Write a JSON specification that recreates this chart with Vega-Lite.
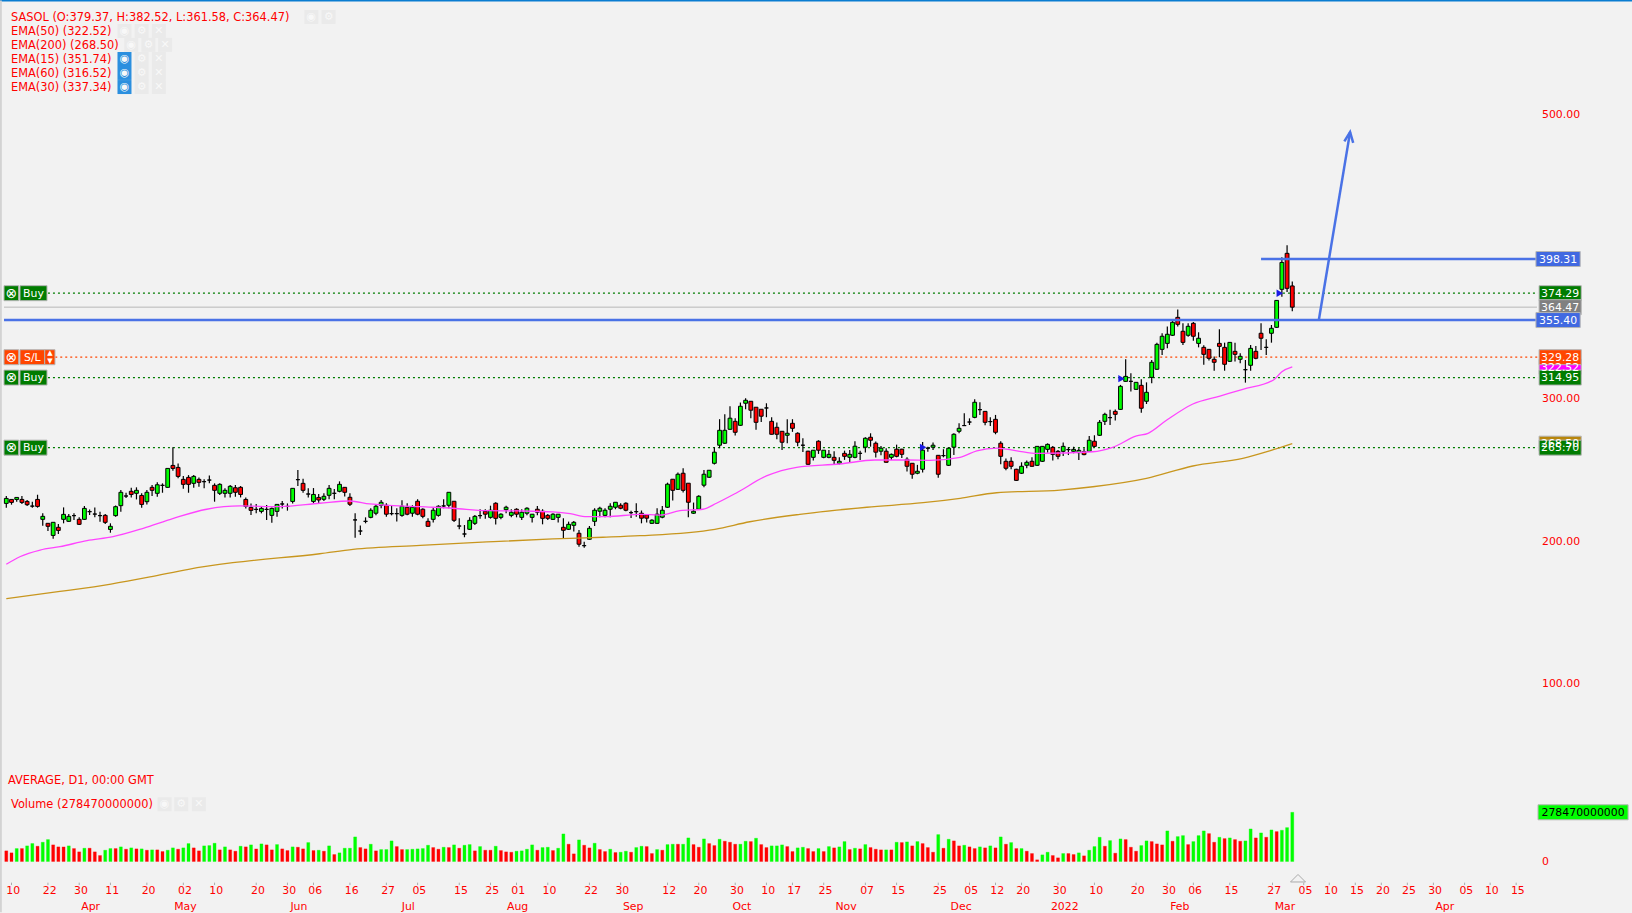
{"$schema":"https://vega.github.io/schema/vega-lite/v6.json","width":1632,"height":913,"padding":0,"autosize":{"type":"none"},"background":"#f2f2f2","config":{"view":{"stroke":null},"text":{"font":"DejaVu Sans","fontSize":10.9,"baseline":"middle"}},
"datasets":{
"bars":[
{"i":0,"o":226.5,"h":231.7,"l":223.5,"c":230.0,"d":"up","v":60.2,"vd":"down"},
{"i":1,"o":229.3,"h":229.3,"l":225.6,"c":227.2,"d":"down","v":48.9,"vd":"down"},
{"i":2,"o":229.3,"h":230.7,"l":227.7,"c":230.7,"d":"up","v":73.3,"vd":"up"},
{"i":3,"o":229.3,"h":231.7,"l":226.1,"c":227.2,"d":"down","v":73.3,"vd":"down"},
{"i":4,"o":227.9,"h":228.9,"l":224.6,"c":225.6,"d":"down","v":88.4,"vd":"up"},
{"i":5,"o":224.6,"h":227.7,"l":223.5,"c":224.6,"d":"flat","v":101.5,"vd":"up"},
{"i":6,"o":229.3,"h":232.6,"l":223.5,"c":224.4,"d":"down","v":86.5,"vd":"down"},
{"i":7,"o":215.3,"h":219.5,"l":210.8,"c":217.4,"d":"up","v":109,"vd":"up"},
{"i":8,"o":212.5,"h":212.5,"l":207.1,"c":210.4,"d":"down","v":124.1,"vd":"up"},
{"i":9,"o":204.0,"h":213.2,"l":201.7,"c":213.2,"d":"up","v":94,"vd":"down"},
{"i":10,"o":209.7,"h":212.0,"l":205.0,"c":207.5,"d":"down","v":82.7,"vd":"down"},
{"i":11,"o":215.3,"h":223.7,"l":212.5,"c":218.8,"d":"up","v":82.7,"vd":"down"},
{"i":12,"o":213.9,"h":219.0,"l":213.4,"c":217.4,"d":"up","v":88.4,"vd":"up"},
{"i":13,"o":217.9,"h":219.5,"l":214.8,"c":217.9,"d":"flat","v":73.3,"vd":"down"},
{"i":14,"o":215.3,"h":216.7,"l":211.3,"c":211.8,"d":"down","v":54.5,"vd":"down"},
{"i":15,"o":215.3,"h":224.6,"l":214.8,"c":223.0,"d":"up","v":75.2,"vd":"up"},
{"i":16,"o":220.7,"h":222.3,"l":218.3,"c":220.7,"d":"flat","v":75.2,"vd":"down"},
{"i":17,"o":219.0,"h":223.7,"l":216.7,"c":219.0,"d":"flat","v":54.5,"vd":"down"},
{"i":18,"o":217.9,"h":220.7,"l":213.6,"c":217.9,"d":"flat","v":33.8,"vd":"down"},
{"i":19,"o":218.1,"h":219.0,"l":212.0,"c":213.2,"d":"down","v":63.9,"vd":"up"},
{"i":20,"o":208.2,"h":212.5,"l":205.9,"c":210.4,"d":"up","v":73.3,"vd":"up"},
{"i":21,"o":217.9,"h":225.1,"l":217.1,"c":224.2,"d":"up","v":73.3,"vd":"down"},
{"i":22,"o":224.9,"h":235.9,"l":220.7,"c":234.3,"d":"up","v":82.7,"vd":"up"},
{"i":23,"o":231.7,"h":234.0,"l":230.3,"c":231.7,"d":"flat","v":69.6,"vd":"down"},
{"i":24,"o":235.0,"h":237.5,"l":230.7,"c":232.8,"d":"down","v":77.1,"vd":"up"},
{"i":25,"o":233.6,"h":237.8,"l":229.3,"c":235.7,"d":"up","v":71.4,"vd":"down"},
{"i":26,"o":232.1,"h":233.6,"l":223.5,"c":225.8,"d":"down","v":71.4,"vd":"up"},
{"i":27,"o":227.7,"h":235.9,"l":225.8,"c":234.3,"d":"up","v":63.9,"vd":"down"},
{"i":28,"o":237.8,"h":239.4,"l":231.7,"c":235.7,"d":"down","v":65.8,"vd":"up"},
{"i":29,"o":233.6,"h":241.3,"l":231.2,"c":239.6,"d":"up","v":65.8,"vd":"down"},
{"i":30,"o":239.2,"h":240.6,"l":234.0,"c":239.2,"d":"flat","v":56.4,"vd":"down"},
{"i":31,"o":237.8,"h":251.1,"l":237.5,"c":251.1,"d":"up","v":63.9,"vd":"up"},
{"i":32,"o":253.2,"h":265.9,"l":249.5,"c":251.1,"d":"down","v":77.1,"vd":"up"},
{"i":33,"o":251.8,"h":254.6,"l":244.1,"c":245.5,"d":"down","v":69.6,"vd":"down"},
{"i":34,"o":243.4,"h":245.7,"l":236.8,"c":239.9,"d":"down","v":77.1,"vd":"up"},
{"i":35,"o":244.8,"h":246.4,"l":234.0,"c":239.9,"d":"down","v":101.5,"vd":"up"},
{"i":36,"o":240.6,"h":246.4,"l":237.5,"c":245.5,"d":"up","v":77.1,"vd":"down"},
{"i":37,"o":243.4,"h":244.8,"l":238.2,"c":241.3,"d":"down","v":60.2,"vd":"down"},
{"i":38,"o":241.8,"h":243.4,"l":237.1,"c":241.8,"d":"flat","v":88.4,"vd":"up"},
{"i":39,"o":242.9,"h":246.2,"l":240.6,"c":242.9,"d":"flat","v":90.2,"vd":"up"},
{"i":40,"o":239.2,"h":240.6,"l":227.7,"c":235.7,"d":"down","v":103.4,"vd":"up"},
{"i":41,"o":233.6,"h":240.6,"l":232.4,"c":239.9,"d":"up","v":65.8,"vd":"down"},
{"i":42,"o":233.6,"h":237.1,"l":230.7,"c":235.7,"d":"up","v":82.7,"vd":"up"},
{"i":43,"o":233.6,"h":239.4,"l":230.7,"c":238.5,"d":"up","v":65.8,"vd":"down"},
{"i":44,"o":237.5,"h":239.4,"l":231.2,"c":234.3,"d":"down","v":58.3,"vd":"down"},
{"i":45,"o":237.8,"h":238.7,"l":230.7,"c":232.8,"d":"down","v":86.5,"vd":"up"},
{"i":46,"o":229.3,"h":230.7,"l":223.0,"c":224.4,"d":"down","v":82.7,"vd":"down"},
{"i":47,"o":223.7,"h":226.5,"l":218.3,"c":221.6,"d":"down","v":94,"vd":"up"},
{"i":48,"o":222.3,"h":226.1,"l":219.5,"c":222.3,"d":"flat","v":71.4,"vd":"down"},
{"i":49,"o":220.9,"h":224.6,"l":219.5,"c":223.0,"d":"up","v":99.6,"vd":"up"},
{"i":50,"o":222.3,"h":225.4,"l":214.8,"c":222.3,"d":"flat","v":94,"vd":"down"},
{"i":51,"o":218.1,"h":223.7,"l":212.9,"c":223.0,"d":"up","v":65.8,"vd":"down"},
{"i":52,"o":220.9,"h":225.8,"l":217.1,"c":225.8,"d":"up","v":95.9,"vd":"up"},
{"i":53,"o":226.1,"h":228.2,"l":223.0,"c":226.1,"d":"flat","v":71.4,"vd":"down"},
{"i":54,"o":224.4,"h":226.5,"l":221.4,"c":224.4,"d":"flat","v":62,"vd":"down"},
{"i":55,"o":227.9,"h":237.1,"l":226.5,"c":237.1,"d":"up","v":82.7,"vd":"up"},
{"i":56,"o":243.2,"h":250.0,"l":238.7,"c":243.2,"d":"flat","v":80.8,"vd":"down"},
{"i":57,"o":240.6,"h":243.9,"l":234.0,"c":235.7,"d":"down","v":71.4,"vd":"down"},
{"i":58,"o":233.1,"h":237.1,"l":230.7,"c":233.1,"d":"flat","v":107.2,"vd":"up"},
{"i":59,"o":227.9,"h":237.3,"l":226.5,"c":232.8,"d":"up","v":62,"vd":"down"},
{"i":60,"o":230.7,"h":233.1,"l":226.5,"c":228.9,"d":"down","v":63.9,"vd":"up"},
{"i":61,"o":229.4,"h":233.6,"l":228.2,"c":231.5,"d":"up","v":58.3,"vd":"down"},
{"i":62,"o":232.2,"h":239.5,"l":229.4,"c":237.1,"d":"up","v":88.4,"vd":"up"},
{"i":63,"o":233.6,"h":236.7,"l":229.4,"c":233.6,"d":"flat","v":39.5,"vd":"down"},
{"i":64,"o":235.0,"h":242.0,"l":234.3,"c":239.9,"d":"up","v":48.9,"vd":"up"},
{"i":65,"o":237.8,"h":237.8,"l":231.3,"c":234.3,"d":"down","v":75.2,"vd":"up"},
{"i":66,"o":230.8,"h":233.6,"l":224.7,"c":225.9,"d":"down","v":75.2,"vd":"up"},
{"i":67,"o":214.9,"h":219.6,"l":202.4,"c":214.9,"d":"flat","v":139.1,"vd":"up"},
{"i":68,"o":207.1,"h":210.9,"l":204.3,"c":207.1,"d":"flat","v":79,"vd":"down"},
{"i":69,"o":213.9,"h":216.7,"l":212.5,"c":213.9,"d":"flat","v":71.4,"vd":"down"},
{"i":70,"o":216.7,"h":223.1,"l":216.0,"c":221.7,"d":"up","v":97.8,"vd":"up"},
{"i":71,"o":219.6,"h":225.9,"l":218.1,"c":224.5,"d":"up","v":60.2,"vd":"down"},
{"i":72,"o":225.2,"h":228.9,"l":223.1,"c":227.3,"d":"up","v":67.7,"vd":"up"},
{"i":73,"o":225.2,"h":226.6,"l":217.2,"c":218.9,"d":"down","v":67.7,"vd":"up"},
{"i":74,"o":219.3,"h":225.2,"l":218.1,"c":219.3,"d":"flat","v":116.6,"vd":"up"},
{"i":75,"o":219.3,"h":223.1,"l":213.7,"c":219.3,"d":"flat","v":84.6,"vd":"down"},
{"i":76,"o":218.1,"h":228.7,"l":217.2,"c":224.5,"d":"up","v":67.7,"vd":"down"},
{"i":77,"o":223.8,"h":226.6,"l":218.1,"c":218.9,"d":"down","v":67.7,"vd":"up"},
{"i":78,"o":219.6,"h":225.2,"l":217.2,"c":223.8,"d":"up","v":69.6,"vd":"up"},
{"i":79,"o":228.0,"h":229.4,"l":218.1,"c":218.9,"d":"down","v":71.4,"vd":"up"},
{"i":80,"o":222.4,"h":223.1,"l":216.0,"c":217.4,"d":"down","v":73.3,"vd":"up"},
{"i":81,"o":213.9,"h":216.0,"l":210.2,"c":210.4,"d":"down","v":92.1,"vd":"up"},
{"i":82,"o":215.3,"h":223.8,"l":213.0,"c":221.7,"d":"up","v":79,"vd":"down"},
{"i":83,"o":218.1,"h":225.2,"l":217.2,"c":224.5,"d":"up","v":69.6,"vd":"down"},
{"i":84,"o":224.7,"h":229.4,"l":223.1,"c":224.7,"d":"flat","v":80.8,"vd":"up"},
{"i":85,"o":225.2,"h":234.3,"l":223.1,"c":234.3,"d":"up","v":79,"vd":"down"},
{"i":86,"o":228.0,"h":228.0,"l":213.5,"c":214.6,"d":"down","v":94,"vd":"up"},
{"i":87,"o":210.6,"h":216.0,"l":208.3,"c":210.6,"d":"flat","v":75.2,"vd":"down"},
{"i":88,"o":205.0,"h":211.3,"l":202.7,"c":205.0,"d":"flat","v":92.1,"vd":"up"},
{"i":89,"o":208.3,"h":216.7,"l":207.8,"c":214.6,"d":"up","v":95.9,"vd":"up"},
{"i":90,"o":212.5,"h":218.4,"l":211.3,"c":217.4,"d":"up","v":60.2,"vd":"down"},
{"i":91,"o":217.9,"h":222.4,"l":215.8,"c":217.9,"d":"flat","v":84.6,"vd":"up"},
{"i":92,"o":221.0,"h":222.4,"l":215.8,"c":218.9,"d":"down","v":63.9,"vd":"down"},
{"i":93,"o":216.7,"h":224.9,"l":215.8,"c":221.7,"d":"up","v":63.9,"vd":"down"},
{"i":94,"o":226.6,"h":227.3,"l":211.6,"c":216.0,"d":"down","v":86.5,"vd":"up"},
{"i":95,"o":216.7,"h":219.6,"l":215.3,"c":218.9,"d":"up","v":62,"vd":"down"},
{"i":96,"o":222.1,"h":224.9,"l":219.6,"c":223.8,"d":"up","v":54.5,"vd":"down"},
{"i":97,"o":218.1,"h":222.4,"l":216.7,"c":220.3,"d":"up","v":52.6,"vd":"down"},
{"i":98,"o":222.4,"h":223.1,"l":216.7,"c":218.9,"d":"down","v":58.3,"vd":"up"},
{"i":99,"o":216.7,"h":222.4,"l":214.9,"c":220.3,"d":"up","v":60.2,"vd":"up"},
{"i":100,"o":219.6,"h":223.8,"l":218.1,"c":223.1,"d":"up","v":69.6,"vd":"up"},
{"i":101,"o":216.7,"h":218.9,"l":213.0,"c":218.9,"d":"up","v":94,"vd":"up"},
{"i":102,"o":222.4,"h":224.7,"l":218.1,"c":220.3,"d":"down","v":63.9,"vd":"down"},
{"i":103,"o":221.0,"h":222.4,"l":211.8,"c":216.0,"d":"down","v":79,"vd":"up"},
{"i":104,"o":218.1,"h":219.1,"l":214.9,"c":216.0,"d":"down","v":80.8,"vd":"up"},
{"i":105,"o":215.3,"h":219.6,"l":214.9,"c":218.9,"d":"up","v":62,"vd":"down"},
{"i":106,"o":216.7,"h":218.9,"l":213.0,"c":218.9,"d":"up","v":75.2,"vd":"up"},
{"i":107,"o":209.7,"h":216.0,"l":202.0,"c":207.6,"d":"down","v":156,"vd":"up"},
{"i":108,"o":208.3,"h":213.7,"l":207.8,"c":211.8,"d":"up","v":97.8,"vd":"down"},
{"i":109,"o":211.1,"h":214.2,"l":206.7,"c":213.2,"d":"up","v":43.2,"vd":"down"},
{"i":110,"o":205.5,"h":207.8,"l":196.1,"c":197.8,"d":"down","v":122.2,"vd":"up"},
{"i":111,"o":196.8,"h":199.6,"l":195.4,"c":196.8,"d":"flat","v":92.1,"vd":"down"},
{"i":112,"o":201.3,"h":210.6,"l":200.8,"c":209.0,"d":"up","v":77.1,"vd":"down"},
{"i":113,"o":213.9,"h":223.1,"l":210.6,"c":221.7,"d":"up","v":103.4,"vd":"up"},
{"i":114,"o":221.0,"h":224.2,"l":216.7,"c":223.1,"d":"up","v":67.7,"vd":"down"},
{"i":115,"o":218.1,"h":223.1,"l":216.7,"c":221.7,"d":"up","v":56.4,"vd":"down"},
{"i":116,"o":222.4,"h":226.6,"l":216.7,"c":224.5,"d":"up","v":69.6,"vd":"up"},
{"i":117,"o":223.8,"h":227.3,"l":222.4,"c":227.3,"d":"up","v":50.8,"vd":"down"},
{"i":118,"o":225.2,"h":226.6,"l":222.4,"c":223.1,"d":"down","v":52.6,"vd":"up"},
{"i":119,"o":226.6,"h":227.3,"l":221.0,"c":221.7,"d":"down","v":58.3,"vd":"up"},
{"i":120,"o":220.0,"h":221.4,"l":216.3,"c":220.0,"d":"flat","v":52.6,"vd":"down"},
{"i":121,"o":220.7,"h":226.6,"l":217.2,"c":220.7,"d":"flat","v":79,"vd":"up"},
{"i":122,"o":219.6,"h":221.5,"l":212.5,"c":216.1,"d":"down","v":86.5,"vd":"up"},
{"i":123,"o":218.4,"h":218.4,"l":213.0,"c":216.1,"d":"down","v":84.6,"vd":"down"},
{"i":124,"o":212.5,"h":215.4,"l":212.1,"c":214.7,"d":"up","v":45.1,"vd":"down"},
{"i":125,"o":212.5,"h":223.1,"l":212.1,"c":218.9,"d":"up","v":67.7,"vd":"up"},
{"i":126,"o":216.8,"h":224.7,"l":216.1,"c":221.7,"d":"up","v":63.9,"vd":"down"},
{"i":127,"o":223.8,"h":241.1,"l":223.3,"c":240.0,"d":"up","v":95.9,"vd":"up"},
{"i":128,"o":243.5,"h":243.5,"l":228.5,"c":235.7,"d":"down","v":97.8,"vd":"up"},
{"i":129,"o":236.4,"h":248.2,"l":236.0,"c":247.0,"d":"up","v":97.8,"vd":"down"},
{"i":130,"o":247.7,"h":251.2,"l":234.1,"c":235.7,"d":"down","v":97.8,"vd":"up"},
{"i":131,"o":240.7,"h":240.7,"l":216.8,"c":227.3,"d":"down","v":133.5,"vd":"up"},
{"i":132,"o":219.6,"h":227.1,"l":219.1,"c":221.0,"d":"up","v":95.9,"vd":"down"},
{"i":133,"o":222.4,"h":232.2,"l":221.9,"c":231.5,"d":"up","v":80.8,"vd":"down"},
{"i":134,"o":239.3,"h":250.0,"l":237.9,"c":247.0,"d":"up","v":127.8,"vd":"up"},
{"i":135,"o":244.9,"h":249.8,"l":244.4,"c":249.8,"d":"up","v":101.5,"vd":"down"},
{"i":136,"o":254.7,"h":266.0,"l":253.8,"c":262.5,"d":"up","v":90.2,"vd":"down"},
{"i":137,"o":267.4,"h":285.7,"l":265.3,"c":277.9,"d":"up","v":126,"vd":"up"},
{"i":138,"o":268.8,"h":289.2,"l":268.3,"c":277.9,"d":"up","v":114.7,"vd":"down"},
{"i":139,"o":278.6,"h":294.8,"l":278.2,"c":286.4,"d":"up","v":109,"vd":"down"},
{"i":140,"o":284.2,"h":286.4,"l":274.2,"c":276.5,"d":"down","v":97.8,"vd":"down"},
{"i":141,"o":281.4,"h":297.4,"l":281.0,"c":294.8,"d":"up","v":97.8,"vd":"up"},
{"i":142,"o":296.9,"h":300.4,"l":292.7,"c":299.0,"d":"up","v":114.7,"vd":"up"},
{"i":143,"o":298.3,"h":298.3,"l":286.4,"c":292.0,"d":"down","v":112.8,"vd":"down"},
{"i":144,"o":294.1,"h":294.1,"l":278.2,"c":283.5,"d":"down","v":131.6,"vd":"up"},
{"i":145,"o":292.7,"h":292.7,"l":283.8,"c":287.8,"d":"down","v":95.9,"vd":"down"},
{"i":146,"o":293.6,"h":296.9,"l":287.1,"c":293.6,"d":"flat","v":79,"vd":"down"},
{"i":147,"o":284.2,"h":287.1,"l":274.9,"c":275.1,"d":"down","v":88.4,"vd":"up"},
{"i":148,"o":280.0,"h":283.3,"l":271.6,"c":275.1,"d":"down","v":88.4,"vd":"up"},
{"i":149,"o":277.2,"h":277.2,"l":264.1,"c":269.5,"d":"down","v":94,"vd":"up"},
{"i":150,"o":274.4,"h":285.7,"l":268.8,"c":275.8,"d":"up","v":84.6,"vd":"down"},
{"i":151,"o":282.8,"h":285.7,"l":276.8,"c":279.3,"d":"down","v":56.4,"vd":"down"},
{"i":152,"o":275.8,"h":276.5,"l":266.7,"c":269.5,"d":"down","v":77.1,"vd":"up"},
{"i":153,"o":267.4,"h":272.3,"l":262.7,"c":267.4,"d":"flat","v":80.8,"vd":"up"},
{"i":154,"o":263.2,"h":263.6,"l":253.6,"c":254.0,"d":"down","v":73.3,"vd":"down"},
{"i":155,"o":258.9,"h":263.9,"l":256.6,"c":263.9,"d":"up","v":56.4,"vd":"down"},
{"i":156,"o":270.2,"h":270.9,"l":261.3,"c":263.9,"d":"down","v":73.3,"vd":"up"},
{"i":157,"o":258.9,"h":263.9,"l":258.2,"c":263.9,"d":"up","v":56.4,"vd":"down"},
{"i":158,"o":258.9,"h":264.1,"l":258.2,"c":261.0,"d":"up","v":84.6,"vd":"up"},
{"i":159,"o":258.9,"h":263.2,"l":253.6,"c":256.8,"d":"down","v":77.1,"vd":"down"},
{"i":160,"o":254.7,"h":258.9,"l":253.8,"c":256.1,"d":"up","v":82.7,"vd":"up"},
{"i":161,"o":261.7,"h":263.6,"l":257.1,"c":259.6,"d":"down","v":112.8,"vd":"up"},
{"i":162,"o":258.9,"h":264.1,"l":255.2,"c":261.0,"d":"up","v":67.7,"vd":"down"},
{"i":163,"o":258.9,"h":270.2,"l":258.2,"c":266.7,"d":"up","v":75.2,"vd":"up"},
{"i":164,"o":261.7,"h":263.6,"l":257.1,"c":261.7,"d":"flat","v":71.4,"vd":"down"},
{"i":165,"o":266.0,"h":273.0,"l":262.2,"c":272.3,"d":"up","v":95.9,"vd":"up"},
{"i":166,"o":273.0,"h":275.8,"l":266.4,"c":270.9,"d":"down","v":79,"vd":"down"},
{"i":167,"o":268.8,"h":270.0,"l":258.7,"c":262.5,"d":"down","v":69.6,"vd":"down"},
{"i":168,"o":263.2,"h":266.9,"l":260.3,"c":265.3,"d":"up","v":65.8,"vd":"down"},
{"i":169,"o":263.2,"h":265.3,"l":255.2,"c":255.4,"d":"down","v":65.8,"vd":"up"},
{"i":170,"o":258.9,"h":261.5,"l":257.1,"c":261.0,"d":"up","v":65.8,"vd":"down"},
{"i":171,"o":264.6,"h":267.8,"l":258.9,"c":259.6,"d":"down","v":109,"vd":"up"},
{"i":172,"o":264.6,"h":265.0,"l":258.5,"c":261.0,"d":"down","v":107.2,"vd":"down"},
{"i":173,"o":257.5,"h":258.9,"l":248.9,"c":252.6,"d":"down","v":110.9,"vd":"up"},
{"i":174,"o":254.7,"h":254.7,"l":243.9,"c":247.0,"d":"down","v":88.4,"vd":"down"},
{"i":175,"o":247.7,"h":253.6,"l":247.0,"c":249.1,"d":"up","v":112.8,"vd":"up"},
{"i":176,"o":250.5,"h":269.7,"l":248.2,"c":263.9,"d":"up","v":101.5,"vd":"down"},
{"i":177,"o":265.3,"h":266.4,"l":262.9,"c":265.3,"d":"flat","v":79,"vd":"down"},
{"i":178,"o":266.0,"h":269.3,"l":264.1,"c":267.4,"d":"up","v":52.6,"vd":"down"},
{"i":179,"o":260.3,"h":260.3,"l":244.6,"c":247.0,"d":"down","v":152.3,"vd":"up"},
{"i":180,"o":260.1,"h":264.6,"l":258.9,"c":260.1,"d":"flat","v":75.2,"vd":"down"},
{"i":181,"o":253.3,"h":265.7,"l":252.8,"c":265.3,"d":"up","v":126,"vd":"up"},
{"i":182,"o":266.0,"h":275.8,"l":260.6,"c":275.1,"d":"up","v":116.6,"vd":"down"},
{"i":183,"o":277.2,"h":282.8,"l":275.8,"c":279.3,"d":"up","v":88.4,"vd":"down"},
{"i":184,"o":281.2,"h":289.8,"l":280.9,"c":281.2,"d":"flat","v":92.1,"vd":"up"},
{"i":185,"o":283.7,"h":286.3,"l":281.6,"c":283.7,"d":"flat","v":82.7,"vd":"down"},
{"i":186,"o":287.0,"h":299.7,"l":286.3,"c":297.6,"d":"up","v":73.3,"vd":"down"},
{"i":187,"o":292.4,"h":297.6,"l":288.7,"c":292.4,"d":"flat","v":82.7,"vd":"up"},
{"i":188,"o":291.2,"h":291.2,"l":281.4,"c":283.5,"d":"down","v":77.1,"vd":"down"},
{"i":189,"o":284.0,"h":287.0,"l":280.9,"c":284.0,"d":"flat","v":88.4,"vd":"up"},
{"i":190,"o":285.6,"h":288.7,"l":275.1,"c":276.5,"d":"down","v":77.1,"vd":"down"},
{"i":191,"o":268.8,"h":270.2,"l":254.0,"c":259.6,"d":"down","v":139.1,"vd":"up"},
{"i":192,"o":256.1,"h":258.0,"l":249.8,"c":251.2,"d":"down","v":97.8,"vd":"down"},
{"i":193,"o":256.1,"h":258.9,"l":250.5,"c":252.6,"d":"down","v":107.2,"vd":"up"},
{"i":194,"o":250.5,"h":250.9,"l":242.3,"c":242.7,"d":"down","v":73.3,"vd":"down"},
{"i":195,"o":247.7,"h":255.4,"l":247.2,"c":252.6,"d":"up","v":73.3,"vd":"up"},
{"i":196,"o":253.3,"h":256.6,"l":251.2,"c":255.4,"d":"up","v":58.3,"vd":"down"},
{"i":197,"o":256.1,"h":258.9,"l":252.3,"c":252.6,"d":"down","v":45.1,"vd":"down"},
{"i":198,"o":253.3,"h":266.9,"l":252.8,"c":266.6,"d":"up","v":9.4,"vd":"down"},
{"i":199,"o":256.1,"h":266.9,"l":255.6,"c":266.6,"d":"up","v":37.6,"vd":"up"},
{"i":200,"o":264.5,"h":268.7,"l":262.2,"c":268.0,"d":"up","v":52.6,"vd":"up"},
{"i":201,"o":265.9,"h":266.9,"l":256.6,"c":261.0,"d":"down","v":33.8,"vd":"down"},
{"i":202,"o":263.1,"h":264.1,"l":257.5,"c":259.6,"d":"down","v":20.7,"vd":"down"},
{"i":203,"o":263.1,"h":269.4,"l":259.8,"c":266.6,"d":"up","v":45.1,"vd":"up"},
{"i":204,"o":264.3,"h":265.9,"l":260.5,"c":264.3,"d":"flat","v":45.1,"vd":"down"},
{"i":205,"o":263.1,"h":266.4,"l":261.7,"c":264.5,"d":"up","v":39.5,"vd":"down"},
{"i":206,"o":262.2,"h":265.2,"l":257.0,"c":263.8,"d":"up","v":48.9,"vd":"up"},
{"i":207,"o":262.9,"h":265.2,"l":260.3,"c":260.8,"d":"down","v":32,"vd":"down"},
{"i":208,"o":263.1,"h":273.9,"l":262.7,"c":270.9,"d":"up","v":63.9,"vd":"up"},
{"i":209,"o":270.2,"h":274.4,"l":265.9,"c":266.6,"d":"down","v":84.6,"vd":"up"},
{"i":210,"o":274.4,"h":285.2,"l":273.9,"c":283.5,"d":"up","v":137.2,"vd":"up"},
{"i":211,"o":284.2,"h":290.3,"l":281.6,"c":289.1,"d":"up","v":86.5,"vd":"down"},
{"i":212,"o":286.8,"h":292.4,"l":281.6,"c":286.8,"d":"flat","v":118.4,"vd":"up"},
{"i":213,"o":291.2,"h":292.6,"l":284.7,"c":289.1,"d":"down","v":47,"vd":"down"},
{"i":214,"o":292.6,"h":309.8,"l":292.2,"c":308.8,"d":"up","v":127.8,"vd":"up"},
{"i":215,"o":312.3,"h":327.8,"l":312.1,"c":315.8,"d":"up","v":124.1,"vd":"down"},
{"i":216,"o":312.3,"h":318.0,"l":305.1,"c":312.3,"d":"flat","v":80.8,"vd":"down"},
{"i":217,"o":306.7,"h":311.6,"l":306.2,"c":311.6,"d":"up","v":58.3,"vd":"down"},
{"i":218,"o":309.5,"h":313.7,"l":290.3,"c":293.4,"d":"down","v":90.2,"vd":"up"},
{"i":219,"o":298.3,"h":311.6,"l":296.4,"c":304.6,"d":"up","v":116.6,"vd":"up"},
{"i":220,"o":315.1,"h":327.3,"l":310.9,"c":325.7,"d":"up","v":112.8,"vd":"down"},
{"i":221,"o":320.8,"h":339.5,"l":320.3,"c":338.3,"d":"up","v":99.6,"vd":"down"},
{"i":222,"o":334.8,"h":346.1,"l":330.8,"c":344.0,"d":"up","v":94,"vd":"down"},
{"i":223,"o":339.0,"h":350.8,"l":335.5,"c":345.4,"d":"up","v":173,"vd":"up"},
{"i":224,"o":344.7,"h":355.4,"l":344.2,"c":353.8,"d":"up","v":114.7,"vd":"down"},
{"i":225,"o":357.3,"h":362.9,"l":350.8,"c":352.4,"d":"down","v":141,"vd":"up"},
{"i":226,"o":347.5,"h":353.1,"l":337.9,"c":339.7,"d":"down","v":146.6,"vd":"up"},
{"i":227,"o":344.7,"h":353.1,"l":343.7,"c":351.0,"d":"up","v":95.9,"vd":"down"},
{"i":228,"o":353.1,"h":354.0,"l":340.9,"c":344.0,"d":"down","v":112.8,"vd":"up"},
{"i":229,"o":339.0,"h":346.8,"l":336.2,"c":342.6,"d":"up","v":146.6,"vd":"up"},
{"i":230,"o":336.2,"h":337.6,"l":324.0,"c":331.3,"d":"down","v":173,"vd":"up"},
{"i":231,"o":334.8,"h":334.8,"l":326.9,"c":328.5,"d":"down","v":157.9,"vd":"down"},
{"i":232,"o":327.8,"h":329.7,"l":319.8,"c":325.7,"d":"down","v":109,"vd":"down"},
{"i":233,"o":339.0,"h":348.9,"l":329.2,"c":336.9,"d":"down","v":137.2,"vd":"up"},
{"i":234,"o":336.2,"h":339.5,"l":319.8,"c":324.3,"d":"down","v":129.7,"vd":"down"},
{"i":235,"o":326.4,"h":340.0,"l":325.9,"c":339.7,"d":"up","v":133.5,"vd":"up"},
{"i":236,"o":333.4,"h":339.5,"l":326.2,"c":331.3,"d":"down","v":124.1,"vd":"down"},
{"i":237,"o":327.8,"h":332.0,"l":325.0,"c":329.9,"d":"up","v":114.7,"vd":"down"},
{"i":238,"o":320.5,"h":327.3,"l":311.4,"c":320.5,"d":"flat","v":116.6,"vd":"up"},
{"i":239,"o":323.6,"h":337.9,"l":319.8,"c":335.5,"d":"up","v":184.2,"vd":"up"},
{"i":240,"o":333.4,"h":337.2,"l":327.8,"c":328.5,"d":"down","v":133.5,"vd":"down"},
{"i":241,"o":346.1,"h":353.1,"l":334.4,"c":342.6,"d":"down","v":161.7,"vd":"up"},
{"i":242,"o":336.2,"h":341.9,"l":330.8,"c":336.2,"d":"flat","v":137.2,"vd":"down"},
{"i":243,"o":346.1,"h":351.9,"l":339.5,"c":349.6,"d":"up","v":178.6,"vd":"up"},
{"i":244,"o":350.3,"h":369.2,"l":349.8,"c":369.2,"d":"up","v":169.2,"vd":"down"},
{"i":245,"o":377.0,"h":399.5,"l":371.8,"c":395.9,"d":"up","v":176.7,"vd":"up"},
{"i":246,"o":402.3,"h":407.9,"l":375.1,"c":377.7,"d":"down","v":191.8,"vd":"up"},
{"i":247,"o":379.37,"h":382.52,"l":361.58,"c":364.47,"d":"down","v":278.47,"vd":"up"}
],
"ema50":[{"i":0,"p":183.7},{"i":2.6,"p":189},{"i":6.5,"p":193.7},{"i":10.3,"p":196.1},{"i":15.5,"p":200.3},{"i":20.5,"p":203.1},{"i":26.3,"p":209},{"i":32.1,"p":216},{"i":38.5,"p":222.4},{"i":44.9,"p":224.7},{"i":52.5,"p":224.2},{"i":60.2,"p":226.6},{"i":66,"p":228.2},{"i":69.8,"p":226.1},{"i":79.5,"p":224.2},{"i":85.8,"p":223.1},{"i":92.3,"p":221.4},{"i":98.7,"p":221.2},{"i":105,"p":220.5},{"i":108.3,"p":219.3},{"i":111.5,"p":217.2},{"i":115.3,"p":217.2},{"i":121.7,"p":218.8},{"i":125.5,"p":218.3},{"i":129.4,"p":221.4},{"i":133.8,"p":222.4},{"i":136.4,"p":226.6},{"i":140.3,"p":234},{"i":146,"p":245.8},{"i":151.8,"p":251.9},{"i":160.1,"p":254.2},{"i":166.8,"p":257},{"i":173,"p":257},{"i":177.4,"p":256.8},{"i":183.2,"p":258.9},{"i":186.4,"p":263.5},{"i":190.3,"p":265.4},{"i":194.1,"p":263.5},{"i":198,"p":261.7},{"i":208.7,"p":262.8},{"i":212.5,"p":265.9},{"i":217.1,"p":273.9},{"i":219.3,"p":275.8},{"i":222.9,"p":285.1},{"i":227.9,"p":296.4},{"i":233.1,"p":302},{"i":237.5,"p":306.7},{"i":243.4,"p":313.3},{"i":245,"p":319.1},{"i":247,"p":322.52}],
"ema200":[{"i":0,"p":159.6},{"i":10.3,"p":164.6},{"i":20.1,"p":169.8},{"i":27.6,"p":174.8},{"i":35,"p":180.2},{"i":43.5,"p":184.8},{"i":60.2,"p":191.1},{"i":66.6,"p":194.2},{"i":79.5,"p":197},{"i":92.3,"p":199.4},{"i":105,"p":201.5},{"i":114.6,"p":202.7},{"i":121.7,"p":203.8},{"i":136.1,"p":208.3},{"i":142.8,"p":213.6},{"i":152.4,"p":218.8},{"i":165.3,"p":223.8},{"i":176.1,"p":227},{"i":183.2,"p":230.1},{"i":190.2,"p":234},{"i":202.4,"p":235.9},{"i":208.7,"p":238.2},{"i":219,"p":244.1},{"i":227.9,"p":252.8},{"i":237.5,"p":258.2},{"i":242.7,"p":263.5},{"i":247,"p":268.5}],
"dotted":[{"a":8,"b":294.2,"p":374.29,"k":"buy"},{"a":9.4,"b":294.2,"p":329.28,"k":"sl"},{"a":8,"b":294.2,"p":314.95,"k":"buy"},{"a":8,"b":294.2,"p":265.7,"k":"buy"}],
"solid":[{"a":-0.44,"b":294,"p":364.47}],
"blue":[{"a":-0.44,"b":293.8,"p":355.4},{"a":241,"b":293.8,"p":398.31}],
"arrow":[{"s":"shaft","n":1,"i":252.1,"p":355.4},{"s":"shaft","n":2,"i":258.1,"p":487.5},{"s":"head","n":1,"i":257,"p":481},{"s":"head","n":2,"i":258.1,"p":487.5},{"s":"head","n":3,"i":258.7,"p":480}],
"markers":[{"i":176.1,"p":265.9},{"i":214.2,"p":314.2},{"i":244.6,"p":374.2}],
"boxes":[
{"a":293.8,"b":302.3,"m":298.05,"p":398.31,"k":"line","t":"398.31"},
{"a":294.4,"b":302.5,"m":298.45,"p":374.29,"k":"buy","t":"374.29"},
{"a":294.4,"b":302.5,"m":298.45,"p":364.47,"k":"close","t":"364.47"},
{"a":293.8,"b":302.3,"m":298.05,"p":355.4,"k":"line","t":"355.40"},
{"a":294.4,"b":302.5,"m":298.45,"p":322.52,"k":"ema50","t":"322.52"},
{"a":294.4,"b":302.5,"m":298.45,"p":329.28,"k":"sl","t":"329.28"},
{"a":294.4,"b":302.5,"m":298.45,"p":314.95,"k":"buy","t":"314.95"},
{"a":294.4,"b":302.5,"m":298.45,"p":268.5,"k":"ema200","t":"268.50"},
{"a":294.4,"b":302.5,"m":298.45,"p":265.7,"k":"buy","t":"265.70"},
{"a":-0.44,"b":2.38,"m":0.97,"p":374.29,"k":"buy","t":""},
{"a":2.63,"b":7.82,"m":5.23,"p":374.29,"k":"buy","t":"Buy"},
{"a":-0.44,"b":2.38,"m":0.97,"p":329.28,"k":"sl","t":""},
{"a":2.63,"b":7.38,"m":5.0,"p":329.28,"k":"sl","t":"S/L"},
{"a":7.38,"b":9.35,"m":8.37,"p":329.28,"k":"sl","t":""},
{"a":-0.44,"b":2.38,"m":0.97,"p":314.95,"k":"buy","t":""},
{"a":2.63,"b":7.82,"m":5.23,"p":314.95,"k":"buy","t":"Buy"},
{"a":-0.44,"b":2.38,"m":0.97,"p":265.7,"k":"buy","t":""},
{"a":2.63,"b":7.82,"m":5.23,"p":265.7,"k":"buy","t":"Buy"}
],
"closeIcons":[{"m":0.97,"p":374.29,"t":"⊗"},{"m":0.97,"p":329.28,"t":"⊗"},{"m":0.97,"p":314.95,"t":"⊗"},{"m":0.97,"p":265.7,"t":"⊗"}],
"updown":[{"m":8.37,"p":331.9,"t":"▲"},{"m":8.37,"p":326.6,"t":"▼"}],
"ticks":[{"i":1,"t":"10"},{"i":8,"t":"22"},{"i":14,"t":"30"},{"i":20,"t":"11"},{"i":27,"t":"20"},{"i":34,"t":"02"},{"i":40,"t":"10"},{"i":48,"t":"20"},{"i":54,"t":"30"},{"i":59,"t":"06"},{"i":66,"t":"16"},{"i":73,"t":"27"},{"i":79,"t":"05"},{"i":87,"t":"15"},{"i":93,"t":"25"},{"i":98,"t":"01"},{"i":104,"t":"10"},{"i":112,"t":"22"},{"i":118,"t":"30"},{"i":127,"t":"12"},{"i":133,"t":"20"},{"i":140,"t":"30"},{"i":146,"t":"10"},{"i":151,"t":"17"},{"i":157,"t":"25"},{"i":165,"t":"07"},{"i":171,"t":"15"},{"i":179,"t":"25"},{"i":185,"t":"05"},{"i":190,"t":"12"},{"i":195,"t":"20"},{"i":202,"t":"30"},{"i":209,"t":"10"},{"i":217,"t":"20"},{"i":223,"t":"30"},{"i":228,"t":"06"},{"i":235,"t":"15"},{"i":243.2,"t":"27"},{"i":249.2,"t":"05"},{"i":254.1,"t":"10"},{"i":259.1,"t":"15"},{"i":264.1,"t":"20"},{"i":269.1,"t":"25"},{"i":274.1,"t":"30"},{"i":280.1,"t":"05"},{"i":285,"t":"10"},{"i":290,"t":"15"}],
"months":[{"i":16.2,"t":"Apr"},{"i":34.4,"t":"May"},{"i":56.2,"t":"Jun"},{"i":77.2,"t":"Jul"},{"i":98.2,"t":"Aug"},{"i":120.4,"t":"Sep"},{"i":141.3,"t":"Oct"},{"i":161.3,"t":"Nov"},{"i":183.4,"t":"Dec"},{"i":203.3,"t":"2022"},{"i":225.4,"t":"Feb"},{"i":245.6,"t":"Mar"},{"i":276.3,"t":"Apr"}],
"notes":[{"i":0.9,"p":568.5,"t":"SASOL (O:379.37, H:382.52, L:361.58, C:364.47)"},{"i":0.9,"p":558.6,"t":"EMA(50) (322.52)"},{"i":0.9,"p":548.8,"t":"EMA(200) (268.50)"},{"i":0.9,"p":538.9,"t":"EMA(15) (351.74)"},{"i":0.9,"p":529.1,"t":"EMA(60) (316.52)"},{"i":0.9,"p":519.2,"t":"EMA(30) (337.34)"},{"i":0.33,"p":32.1,"t":"AVERAGE, D1, 00:00 GMT"},{"i":0.9,"p":15,"t":"Volume (278470000000)"}],
"buttons":[
{"i":58.6,"p":568.5,"k":"off","g":"◉"},{"i":61.9,"p":568.5,"k":"off","g":"⚙"},
{"i":22.7,"p":558.6,"k":"off","g":"◉"},{"i":26,"p":558.6,"k":"off","g":"⚙"},{"i":29.3,"p":558.6,"k":"off","g":"✕"},
{"i":24,"p":548.8,"k":"off","g":"◉"},{"i":27.3,"p":548.8,"k":"off","g":"⚙"},{"i":30.5,"p":548.8,"k":"off","g":"✕"},
{"i":22.7,"p":538.9,"k":"on","g":"◉"},{"i":26,"p":538.9,"k":"off","g":"⚙"},{"i":29.3,"p":538.9,"k":"off","g":"✕"},
{"i":22.7,"p":529.1,"k":"on","g":"◉"},{"i":26,"p":529.1,"k":"off","g":"⚙"},{"i":29.3,"p":529.1,"k":"off","g":"✕"},
{"i":22.7,"p":519.2,"k":"on","g":"◉"},{"i":26,"p":519.2,"k":"off","g":"⚙"},{"i":29.3,"p":519.2,"k":"off","g":"✕"},
{"i":30.4,"p":15,"k":"off","g":"◉"},{"i":33.6,"p":15,"k":"off","g":"⚙"},{"i":37,"p":15,"k":"off","g":"✕"}
],
"volTag":[{"a":294.2,"b":311.5,"m":302.85,"v":278.47,"t":"278470000000"}],
"edgeTop":[{"a":-1.21,"b":312.25,"p":580}],
"edgeLeft":[{"i":-1.05,"a":-61,"b":580}],
"cursor":[{"i":248.1,"p":-37}]
},
"resolve":{"scale":{"y":"independent"}},
"layer":[
{"layer":[
{"data":{"name":"bars"},"mark":{"type":"bar","size":3,"strokeWidth":1,"strokeOpacity":0.3},
"encoding":{"x":{"field":"i","type":"quantitative","axis":null,"scale":{"domain":[-1.21,312.25],"nice":false,"zero":false,"padding":0}},
"y":{"field":"v","type":"quantitative","scale":{"domain":[-291.5,4876],"nice":false,"zero":false},"axis":{"orient":"right","values":[0],"offset":-90.5,"domain":false,"ticks":false,"grid":false,"title":null,"labelColor":"#ff0000","labelFont":"DejaVu Sans","labelFontSize":10.9,"labelPadding":0}},
"fill":{"field":"vd","type":"nominal","scale":{"domain":["up","down","flat","buy","sl","close","line","ema50","ema200","on","off"],"range":["#00ff00","#ff0000","#000000","#007c00","#ff4500","#808080","#4169e1","#ff00ff","#b8860b","#2b8fdf","#eaeaea"]},"legend":null},
"stroke":{"field":"vd","type":"nominal","scale":{"domain":["up","down","flat","buy","sl"],"range":["#00ff00","#ff0000","#000000","#007c00","#ff4500"]},"legend":null}}},
{"data":{"name":"volTag"},"mark":{"type":"rect","fill":"#00ff00","stroke":"#b5b5b5","height":15},
"encoding":{"x":{"field":"a","type":"quantitative"},"x2":{"field":"b"},"y":{"field":"v","type":"quantitative","axis":{"title":null}}}},
{"data":{"name":"volTag"},"mark":{"type":"text","color":"#000000","dy":0.7},
"encoding":{"x":{"field":"m","type":"quantitative"},"y":{"field":"v","type":"quantitative","axis":{"title":null}},"text":{"field":"t"}}}
]},
{"layer":[
{"data":{"name":"edgeTop"},"mark":{"type":"rule","color":"#0a7dd1","strokeWidth":2},
"encoding":{"x":{"field":"a","type":"quantitative"},"x2":{"field":"b"},
"y":{"field":"p","type":"quantitative","scale":{"domain":[-61.44,580.39],"nice":false,"zero":false},"axis":{"orient":"right","values":[100,200,300,500],"format":".2f","offset":-90.5,"domain":false,"ticks":false,"grid":false,"title":null,"labelColor":"#ff0000","labelFont":"DejaVu Sans","labelFontSize":10.9,"labelPadding":0}}}},
{"data":{"name":"edgeLeft"},"mark":{"type":"rule","color":"#d3d3d3","strokeWidth":2},
"encoding":{"x":{"field":"i","type":"quantitative"},"y":{"field":"a","type":"quantitative","axis":{"title":null}},"y2":{"field":"b"}}},
{"data":{"name":"solid"},"mark":{"type":"rule","color":"#b8b8b8","strokeWidth":1},
"encoding":{"x":{"field":"a","type":"quantitative"},"x2":{"field":"b"},"y":{"field":"p","type":"quantitative","axis":{"title":null}}}},
{"data":{"name":"dotted"},"mark":{"type":"rule","strokeWidth":1.2,"strokeDash":[2,3]},
"encoding":{"x":{"field":"a","type":"quantitative"},"x2":{"field":"b"},"y":{"field":"p","type":"quantitative","axis":{"title":null}},
"stroke":{"field":"k","type":"nominal","scale":{"domain":["up","down","flat","buy","sl"],"range":["#00ff00","#ff0000","#000000","#007c00","#ff4500"]},"legend":null}}},
{"data":{"name":"bars"},"mark":{"type":"rule","color":"#000000","strokeWidth":1.2},
"encoding":{"x":{"field":"i","type":"quantitative"},"y":{"field":"l","type":"quantitative","axis":{"title":null}},"y2":{"field":"h"}}},
{"data":{"name":"bars"},"mark":{"type":"bar","size":3.8,"stroke":"#000000","strokeWidth":1},
"encoding":{"x":{"field":"i","type":"quantitative"},"y":{"field":"o","type":"quantitative","axis":{"title":null}},"y2":{"field":"c"},
"fill":{"field":"d","type":"nominal","scale":{"domain":["up","down","flat","buy","sl","close","line","ema50","ema200","on","off"],"range":["#00ff00","#ff0000","#000000","#007c00","#ff4500","#808080","#4169e1","#ff00ff","#b8860b","#2b8fdf","#eaeaea"]},"legend":null}}},
{"data":{"name":"ema200"},"mark":{"type":"line","color":"#c8961e","strokeWidth":1.3,"interpolate":"monotone"},
"encoding":{"x":{"field":"i","type":"quantitative"},"y":{"field":"p","type":"quantitative","axis":{"title":null}}}},
{"data":{"name":"ema50"},"mark":{"type":"line","color":"#ff44ff","strokeWidth":1.3,"interpolate":"monotone"},
"encoding":{"x":{"field":"i","type":"quantitative"},"y":{"field":"p","type":"quantitative","axis":{"title":null}}}},
{"data":{"name":"blue"},"mark":{"type":"rule","color":"#4a72e6","strokeWidth":2.5},
"encoding":{"x":{"field":"a","type":"quantitative"},"x2":{"field":"b"},"y":{"field":"p","type":"quantitative","axis":{"title":null}}}},
{"data":{"name":"arrow"},"mark":{"type":"line","color":"#4a72e6","strokeWidth":2.5},
"encoding":{"x":{"field":"i","type":"quantitative"},"y":{"field":"p","type":"quantitative","axis":{"title":null}},"detail":{"field":"s"},"order":{"field":"n"}}},
{"data":{"name":"markers"},"mark":{"type":"point","shape":"triangle-right","filled":true,"color":"#1a1ae6","size":55,"opacity":1},
"encoding":{"x":{"field":"i","type":"quantitative"},"y":{"field":"p","type":"quantitative","axis":{"title":null}}}},
{"data":{"name":"boxes"},"mark":{"type":"rect","height":15,"stroke":"#b5b5b5","strokeWidth":1},
"encoding":{"x":{"field":"a","type":"quantitative"},"x2":{"field":"b"},"y":{"field":"p","type":"quantitative","axis":{"title":null}},
"fill":{"field":"k","type":"nominal","scale":{"domain":["up","down","flat","buy","sl","close","line","ema50","ema200","on","off"],"range":["#00ff00","#ff0000","#000000","#007c00","#ff4500","#808080","#4169e1","#ff00ff","#b8860b","#2b8fdf","#eaeaea"]},"legend":null}}},
{"data":{"name":"boxes"},"mark":{"type":"text","color":"#ffffff","dy":0.7},
"encoding":{"x":{"field":"m","type":"quantitative"},"y":{"field":"p","type":"quantitative","axis":{"title":null}},"text":{"field":"t"}}},
{"data":{"name":"closeIcons"},"mark":{"type":"text","color":"#ffffff","fontSize":14,"dy":0.5},
"encoding":{"x":{"field":"m","type":"quantitative"},"y":{"field":"p","type":"quantitative","axis":{"title":null}},"text":{"field":"t"}}},
{"data":{"name":"updown"},"mark":{"type":"text","color":"#ffffff","fontSize":7},
"encoding":{"x":{"field":"m","type":"quantitative"},"y":{"field":"p","type":"quantitative","axis":{"title":null}},"text":{"field":"t"}}},
{"data":{"name":"ticks"},"mark":{"type":"text","color":"#ff0000","dx":1.7},
"encoding":{"x":{"field":"i","type":"quantitative"},"y":{"datum":-45.8,"axis":{"title":null}},"text":{"field":"t"}}},
{"data":{"name":"ticks"},"mark":{"type":"rule","color":"#aaaaaa","strokeWidth":1},
"encoding":{"x":{"field":"i","type":"quantitative"},"y":{"datum":-40.1,"axis":{"title":null}},"y2":{"datum":-41.8}}},
{"data":{"name":"months"},"mark":{"type":"text","color":"#ff0000","dy":0.7},
"encoding":{"x":{"field":"i","type":"quantitative"},"y":{"datum":-56.5,"axis":{"title":null}},"text":{"field":"t"}}},
{"data":{"name":"cursor"},"mark":{"type":"point","shape":"M -1 0.5 L 0 -0.5 L 1 0.5 Z","filled":false,"color":"#aaaaaa","size":225,"strokeWidth":1,"opacity":1},
"encoding":{"x":{"field":"i","type":"quantitative"},"y":{"field":"p","type":"quantitative","axis":{"title":null}}}},
{"data":{"name":"notes"},"mark":{"type":"text","color":"#ff0000","align":"left","fontSize":11.4,"dy":1},
"encoding":{"x":{"field":"i","type":"quantitative"},"y":{"field":"p","type":"quantitative","axis":{"title":null}},"text":{"field":"t"}}},
{"data":{"name":"buttons"},"mark":{"type":"point","shape":"square","filled":true,"size":196,"opacity":1},
"encoding":{"x":{"field":"i","type":"quantitative"},"y":{"field":"p","type":"quantitative","axis":{"title":null}},
"fill":{"field":"k","type":"nominal","scale":{"domain":["up","down","flat","buy","sl","close","line","ema50","ema200","on","off"],"range":["#00ff00","#ff0000","#000000","#007c00","#ff4500","#808080","#4169e1","#ff00ff","#b8860b","#2b8fdf","#eaeaea"]},"legend":null}}},
{"data":{"name":"buttons"},"mark":{"type":"text","fontSize":11,"color":"#f8f8f8"},
"encoding":{"x":{"field":"i","type":"quantitative"},"y":{"field":"p","type":"quantitative","axis":{"title":null}},"text":{"field":"g"}}}
]}
]}
